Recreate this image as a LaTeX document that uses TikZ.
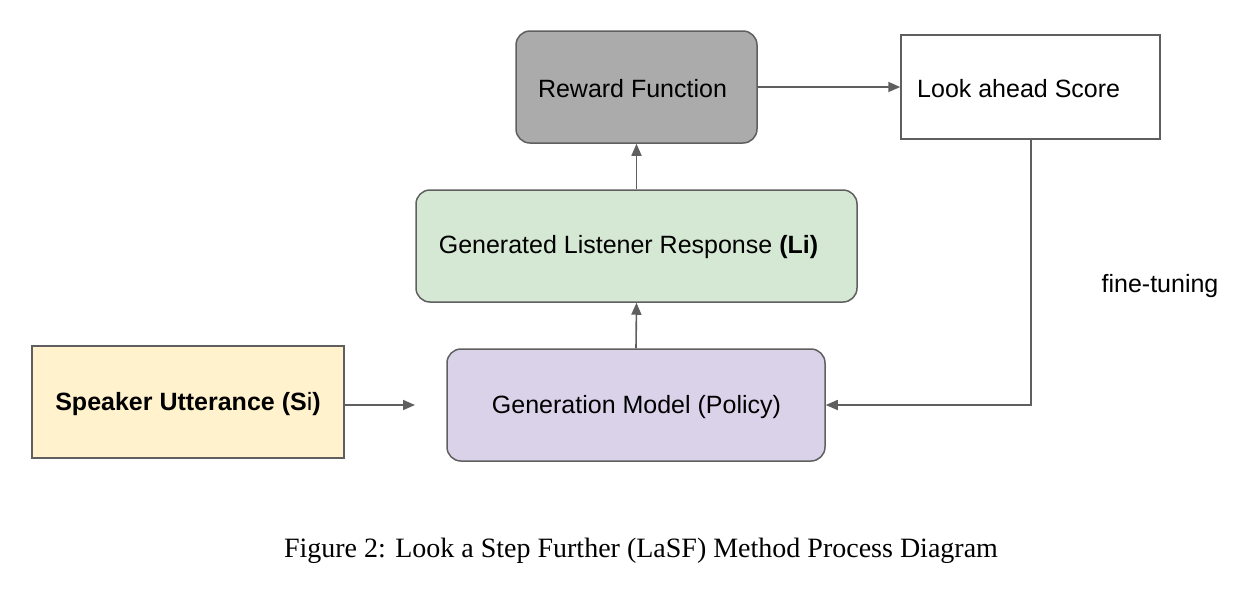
\documentclass[tikz,border=0pt]{standalone}
\usepackage{fontspec}
\setmainfont{Liberation Sans}
\newfontfamily\capfont{Liberation Serif}
\usetikzlibrary{arrows.meta}
\definecolor{linegray}{HTML}{5F5F5F}
\definecolor{rewardfill}{HTML}{ABABAB}
\definecolor{greenfill}{HTML}{D5E8D4}
\definecolor{purplefill}{HTML}{D9D2E9}
\definecolor{yellowfill}{HTML}{FFF2CC}
\tikzset{
  box/.style={draw=linegray, line width=1.5pt, minimum height=112pt, inner sep=0pt},
  rbox/.style={box, rounded corners=14pt},
  txt/.style={font=\fontsize{25}{29}\selectfont, inner sep=0pt},
  conn/.style={draw=linegray, line width=1.6pt, -{Triangle[length=12pt,width=10pt]}},
}
\begin{document}
\begin{tikzpicture}[x=1pt,y=-1pt]
\useasboundingbox (0,0) rectangle (1254,590);
\node[rbox, fill=rewardfill, minimum width=241pt] (reward) at (636.5,87) {};
\node[txt] (rewardt) at (632.5,89) {Reward Function};
\node[box, fill=white, minimum width=259pt, minimum height=104pt] (look) at (1030.5,87) {};
\node[txt, anchor=west] (lookt) at (917,89) {Look ahead Score};
\node[rbox, fill=greenfill, minimum width=441pt] (listener) at (636.5,246) {};
\node[txt] (listenert) at (628.5,247) {Generated Listener Response \textbf{(Li)}};
\node[rbox, fill=purplefill, minimum width=378pt] (gen) at (636,405) {};
\node[txt] (gent) at (636.5,407) {Generation Model (Policy)};
\node[box, fill=yellowfill, minimum width=312pt] (speaker) at (188,402) {};
\node[txt] (speakert) at (188,404) {\textbf{Speaker Utterance (S}i\textbf{)}};
\node[txt] (ft) at (1160,286) {fine-tuning};
\node[font=\capfont\fontsize{28}{32}\selectfont] (cap) at (641,551) {Figure 2: Look a Step Further (LaSF) Method Process Diagram};
\coordinate (genin) at (415,405);
\coordinate (corner) at (1031,405);
\draw[conn] (speaker.east |- genin) -- (genin);
\draw[conn] (gen.north) -- (listener.south);
\draw[conn] (listener.north) -- (reward.south);
\draw[conn] (reward.east) -- (look.west);
\draw[conn] (look.south -| corner) -- (corner) -- (gen.east |- corner);
\end{tikzpicture}
\end{document}
